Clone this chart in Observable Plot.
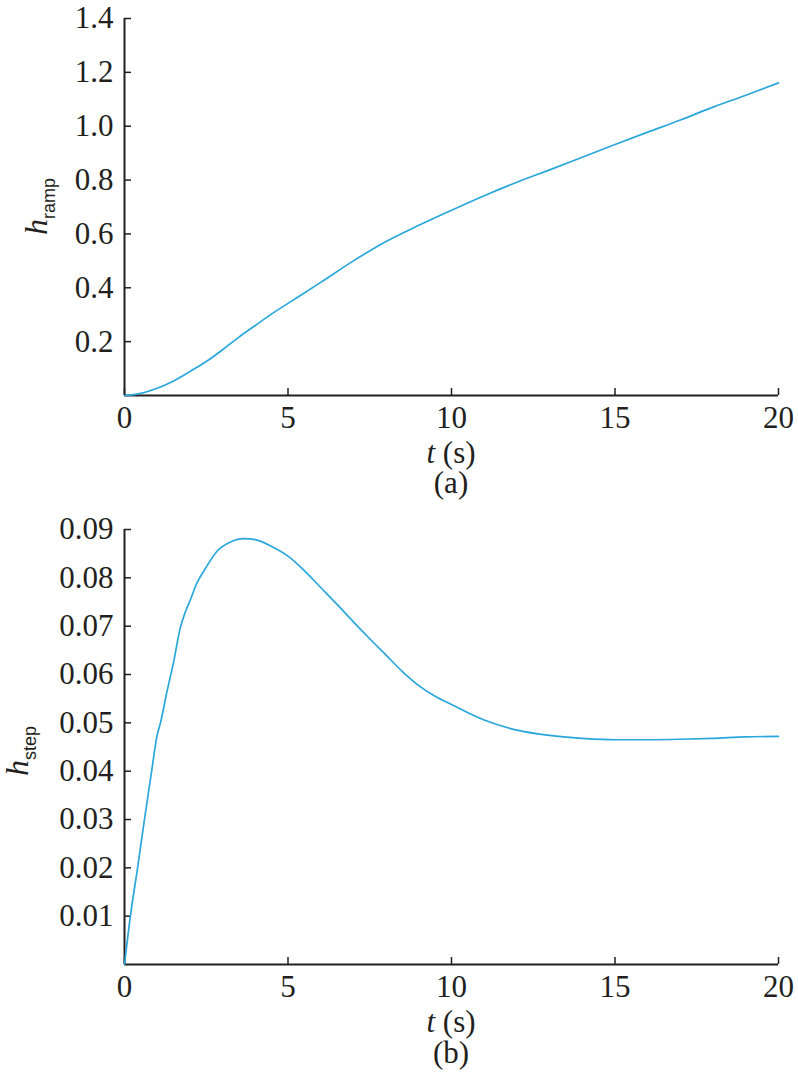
<!DOCTYPE html>
<html>
<head>
<meta charset="utf-8">
<script src="https://cdn.jsdelivr.net/npm/d3@7"></script>
<script src="https://cdn.jsdelivr.net/npm/@observablehq/plot@0.6"></script>
<style>
  html, body { margin: 0; padding: 0; background: #fff; }
  #wrap { position: relative; width: 798px; height: 1076px; }
  .panel { position: absolute; left: 0; }
  .cap { position: absolute; left: 351px; width: 200px; text-align: center;
         font-family: "Liberation Serif", "Times New Roman", Times, "DejaVu Serif", serif;
         font-size: 31px; line-height: 28px; color: #231f20; }
</style>
</head>
<body>
<div id="wrap">
  <div id="pa" class="panel" style="top:0px"></div>
  <div class="cap" style="top:469px">(a)</div>
  <div id="pb" class="panel" style="top:500px"></div>
  <div class="cap" style="top:1039px">(b)</div>
</div>
<script>
// ---- data ----
const xTicks = [0, 5, 10, 15, 20];
const rampTicks = [0.2, 0.4, 0.6, 0.8, 1.0, 1.2, 1.4];
const stepTicks = [0.01, 0.02, 0.03, 0.04, 0.05, 0.06, 0.07, 0.08, 0.09];

const rampT = [0, 0.5, 1, 1.5, 2, 2.5, 3, 3.5, 4, 4.5, 5, 6, 7, 8, 9, 10, 11, 12, 13, 14, 15, 16, 17, 18, 19, 20];
const rampH = [0, 0.008, 0.027, 0.054, 0.089, 0.126, 0.170, 0.217, 0.260, 0.303, 0.342, 0.42, 0.50, 0.572, 0.632, 0.688, 0.742, 0.792, 0.838, 0.885, 0.932, 0.978, 1.023, 1.071, 1.115, 1.161];

const stepT = [0, 0.18, 0.4, 0.61, 0.83, 1.0, 1.1, 1.3, 1.5, 1.7, 1.87, 2.0, 2.22, 2.48, 2.83, 3.24, 3.65, 4.0, 4.5, 5, 5.5, 6, 6.5, 7, 7.5, 8, 8.5, 9, 9.5, 10, 11, 12, 13, 14, 15, 16, 17, 18, 19, 20];
const stepH = [0, 0.010, 0.020, 0.030, 0.040, 0.0475, 0.050, 0.0565, 0.0625, 0.0695, 0.0731, 0.0752, 0.079, 0.082, 0.0855, 0.0874, 0.0881, 0.0879, 0.0865, 0.0845, 0.0815, 0.078, 0.0745, 0.0709, 0.0674, 0.064, 0.0606, 0.0577, 0.0555, 0.0538, 0.0506, 0.0485, 0.0474, 0.0468, 0.0465, 0.0465, 0.0466, 0.0468, 0.0471, 0.0472];

const ink = "#231f20";
const lineColor = "#2aa7dc";
const serif = '"Liberation Serif", "Times New Roman", Times, "DejaVu Serif", serif';
const sans = '"Liberation Sans", Arial, Helvetica, sans-serif';

function panel({T, H, yMax, yTicks, yFmt, height, marginTop}) {
  const data = T.map((t, i) => ({t, h: H[i]}));
  return Plot.plot({
    width: 798,
    height,
    marginLeft: 124,
    marginRight: 20,
    marginTop,
    marginBottom: 77,
    style: {fontFamily: serif, fontSize: "31px", color: ink, background: "#fff"},
    x: {domain: [0, 20]},
    y: {domain: [0, yMax]},
    marks: [
      Plot.axisX({ticks: xTicks, tickSize: -7, tickPadding: 17, strokeWidth: 1.5, tickFormat: d => String(d), label: null, fontFamily: serif}),
      Plot.axisY({ticks: yTicks, tickSize: -7, tickPadding: 18, strokeWidth: 1.5, tickFormat: yFmt, label: null, fontFamily: serif}),
      Plot.ruleX([0], {stroke: ink, strokeWidth: 2}),
      Plot.ruleY([0], {stroke: ink, strokeWidth: 2}),
      Plot.line(data, {x: "t", y: "h", stroke: lineColor, strokeWidth: 1.7, curve: "monotone-x"})
    ]
  });
}

function addLabels(svg, sub, yx, yc, xb) {
  const s = d3.select(svg);
  const yl = s.append("text")
    .attr("transform", `translate(${yx},${yc}) rotate(-90)`)
    .attr("text-anchor", "middle")
    .attr("fill", ink)
    .attr("font-family", serif)
    .attr("font-size", 32);
  yl.append("tspan").text("h").attr("font-style", "italic");
  yl.append("tspan").text(sub).attr("dy", 8)
    .attr("font-family", sans).attr("font-size", 18);
  const xl = s.append("text")
    .attr("x", 451).attr("y", xb)
    .attr("text-anchor", "middle")
    .attr("fill", ink)
    .attr("font-family", serif)
    .attr("font-size", 31);
  xl.append("tspan").text("t").attr("font-style", "italic");
  xl.append("tspan").text(" (s)");
}

const a = panel({T: rampT, H: rampH, yMax: 1.4, yTicks: rampTicks, yFmt: d3.format(".1f"), height: 472, marginTop: 18});
addLabels(a, "ramp", 47, 206.5, 463);
document.getElementById("pa").appendChild(a);

const b = panel({T: stepT, H: stepH, yMax: 0.09, yTicks: stepTicks, yFmt: d3.format(".2f"), height: 541, marginTop: 29});
addLabels(b, "step", 28, 251, 532);
document.getElementById("pb").appendChild(b);
</script>
</body>
</html>
